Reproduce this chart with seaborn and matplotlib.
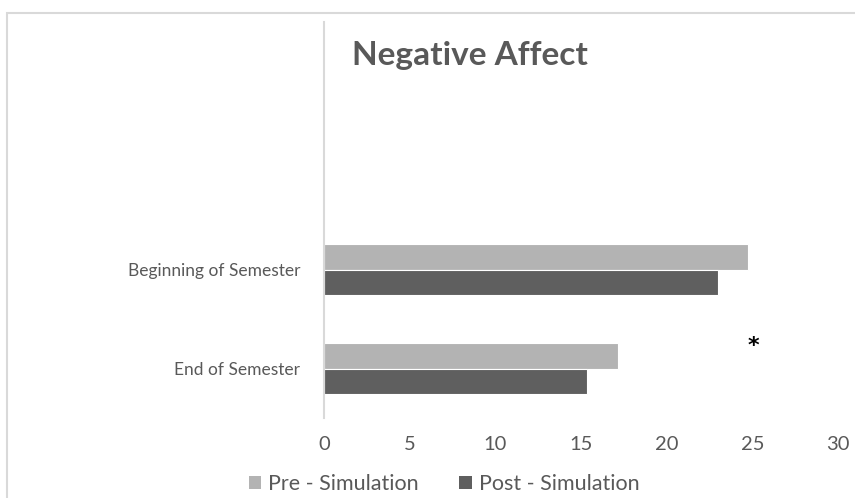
import matplotlib
matplotlib.use("Agg")
import matplotlib.pyplot as plt
import matplotlib.patches as mpatches
import seaborn as sns
import pandas as pd

# Survey data: mean Negative Affect score by time point and measurement
categories = ["Beginning of Semester", "End of Semester"]
series = ["Pre - Simulation", "Post - Simulation"]
pre_values = [24.75, 17.15]
post_values = [23.0, 15.35]
x_ticks = [0, 5, 10, 15, 20, 25, 30]

# Two blank rows above the data, as in the original layout
blank_rows = ["  ", " "]
order = blank_rows + categories

df = pd.DataFrame({
    "Period": categories * 2,
    "Measure": [series[0]] * len(categories) + [series[1]] * len(categories),
    "Score": pre_values + post_values,
})

sns.set_theme(style="white")
plt.rcParams["font.family"] = ["Lato", "DejaVu Sans"]

TEXT = "#595959"
colors = {"Pre - Simulation": "#b3b3b3", "Post - Simulation": "#5f5f5f"}

fig = plt.figure(figsize=(8.55, 4.98), dpi=100)
ax = fig.add_axes([324 / 855, 1 - 418 / 498, (838 - 324) / 855, (418 - 22) / 498])

sns.barplot(
    data=df, y="Period", x="Score", hue="Measure",
    order=order, hue_order=series, palette=colors,
    orient="h", width=0.525, gap=0, errorbar=None,
    edgecolor="white", linewidth=0.8, legend=False, ax=ax,
)

ax.set_xlim(0, 30)
ax.set_ylim(3.5, -0.5)
ax.set_xticks(x_ticks)
ax.set_xticklabels([str(t) for t in x_ticks])
ax.set_xlabel("")
ax.set_ylabel("")
ax.tick_params(axis="x", length=0, pad=13, labelsize=14.5, labelcolor=TEXT)
ax.tick_params(axis="y", length=0, pad=17, labelsize=12.5, labelcolor=TEXT)

for s in ["top", "right", "bottom"]:
    ax.spines[s].set_visible(False)
ax.spines["left"].set_color("#d9d9d9")
ax.spines["left"].set_linewidth(1.5)
ax.grid(False)

# Significance marker
ax.text(25.05, 2.77, "*", ha="center", va="center", fontsize=16,
        fontweight="bold", color="black", family="DejaVu Sans")

# Title
fig.text(352 / 855, 1 - 55 / 498, "Negative Affect", ha="left", va="center",
         fontsize=24, fontweight="bold", color=TEXT)

# Legend
handles = [mpatches.Patch(facecolor=colors[s], edgecolor="none", label=s) for s in series]
fig.legend(handles=handles, loc="center", bbox_to_anchor=(444 / 855, 1 - 484 / 498),
           ncol=2, frameon=False, fontsize=15.5, labelcolor=TEXT,
           handlelength=0.6, handleheight=0.6, handletextpad=0.3, columnspacing=1.9)

# Chart border
fig.patches.append(mpatches.Rectangle((7 / 855, -0.1), 1.2, 1 - 13 / 498 + 0.1,
                                      transform=fig.transFigure, fill=False,
                                      edgecolor="#d9d9d9", linewidth=1.5))

fig.savefig("out.png", dpi=100)
